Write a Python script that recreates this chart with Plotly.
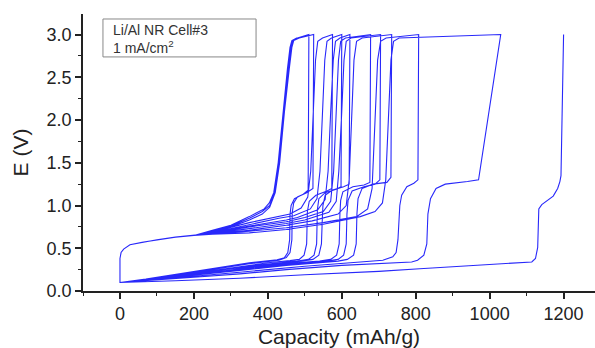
import plotly.graph_objects as go

# ---- data (capacity mAh/g, potential V) ----
charge_start = [(0, 0.1), (0, 0.38), (3, 0.45), (10, 0.49), (27, 0.54), (60, 0.57),
                (100, 0.6), (150, 0.63), (200, 0.65)]

d1 = [(1200, 3.0), (1196, 2.0), (1193, 1.35), (1190, 1.28), (1184, 1.2), (1172, 1.11),
      (1155, 1.05), (1141, 1.01), (1133, 0.96), (1130, 0.51), (1124, 0.38), (1114, 0.34),
      (811, 0.26), (700, 0.23), (500, 0.19), (324, 0.15), (150, 0.12), (0, 0.1)]
c1 = [(250, 0.665), (350, 0.68), (450, 0.72), (550, 0.78), (650, 0.87), (690, 0.93), (710, 1.03),
      (719, 1.3), (727, 2.0), (733, 2.7), (740, 2.92), (755, 2.96)]

d2 = [(1030, 3.0), (1000, 2.15), (970, 1.30), (940, 1.28), (880, 1.25), (855, 1.2), (840, 1.08),
      (833, 0.9), (830, 0.55), (822, 0.42), (805, 0.36), (789, 0.34), (703, 0.325), (600, 0.3),
      (450, 0.25), (324, 0.2), (200, 0.16), (100, 0.13), (0, 0.1)]
c2 = [(250, 0.67), (350, 0.7), (450, 0.74), (550, 0.8), (640, 0.87), (670, 0.96), (682, 1.2),
      (690, 2.0), (697, 2.7), (705, 2.92), (720, 2.96)]

d3 = [(808, 3.0), (807, 2.0), (806, 1.30), (795, 1.26), (776, 1.22), (762, 1.12), (757, 1.0),
      (752, 0.6), (747, 0.45), (738, 0.40), (711, 0.36), (650, 0.34), (500, 0.29), (324, 0.22),
      (200, 0.17), (100, 0.135), (0, 0.1)]
c3 = [(250, 0.67), (350, 0.71), (450, 0.77), (520, 0.82), (590, 0.9), (612, 1.0), (620, 1.3),
      (627, 2.0), (633, 2.7), (640, 2.92), (655, 2.96)]

d4 = [(735, 3.0), (734, 2.0), (733, 1.33), (722, 1.27), (684, 1.25), (655, 1.2), (644, 1.08),
      (641, 0.9), (639, 0.55), (632, 0.42), (615, 0.37), (590, 0.35), (450, 0.3), (324, 0.24),
      (200, 0.18), (100, 0.14), (0, 0.1)]
c4 = [(250, 0.675), (350, 0.73), (450, 0.79), (500, 0.83), (565, 0.92), (585, 1.05), (592, 1.4),
      (600, 2.1), (606, 2.7), (612, 2.92), (625, 2.96)]

d5 = [(705, 3.0), (704, 2.0), (703, 1.3), (690, 1.25), (660, 1.22), (628, 1.17), (617, 1.06),
      (614, 0.9), (612, 0.55), (605, 0.42), (590, 0.37), (560, 0.35), (450, 0.31), (324, 0.25),
      (200, 0.19), (100, 0.14), (0, 0.1)]
c5 = [(250, 0.68), (350, 0.75), (450, 0.81), (500, 0.86), (550, 0.93), (570, 1.05), (578, 1.4),
      (585, 2.1), (591, 2.7), (597, 2.92), (610, 2.96)]

d6 = [(678, 3.0), (677, 2.0), (676, 1.27), (660, 1.24), (630, 1.22), (603, 1.16), (597, 1.06),
      (595, 0.9), (593, 0.55), (586, 0.42), (570, 0.37), (540, 0.35), (450, 0.32), (324, 0.26),
      (200, 0.19), (100, 0.145), (0, 0.1)]
c6 = [(250, 0.68), (350, 0.76), (450, 0.83), (480, 0.86), (535, 0.95), (555, 1.07), (563, 1.4),
      (570, 2.1), (577, 2.7), (583, 2.92), (595, 2.96)]

d7 = [(622, 3.0), (621, 2.0), (620, 1.25), (605, 1.22), (575, 1.18), (555, 1.12), (549, 1.0),
      (547, 0.8), (545, 0.55), (538, 0.42), (522, 0.37), (490, 0.35), (400, 0.31), (300, 0.26),
      (200, 0.2), (100, 0.145), (0, 0.1)]
c7 = [(250, 0.685), (350, 0.78), (430, 0.85), (470, 0.88), (515, 0.96), (533, 1.08), (541, 1.4),
      (548, 2.1), (554, 2.7), (560, 2.92), (572, 2.96)]

d8 = [(600, 3.0), (599, 2.0), (598, 1.22), (585, 1.19), (555, 1.15), (538, 1.08), (534, 0.95),
      (532, 0.55), (525, 0.42), (510, 0.37), (480, 0.35), (400, 0.315), (300, 0.265),
      (200, 0.2), (100, 0.15), (0, 0.1)]
c8 = [(250, 0.69), (350, 0.8), (420, 0.86), (460, 0.9), (490, 0.97), (508, 1.1), (516, 1.4),
      (523, 2.1), (529, 2.7), (535, 2.92), (548, 2.96)]

d9 = [(575, 3.0), (574, 2.0), (573, 1.2), (560, 1.17), (530, 1.12), (512, 1.05), (507, 0.93),
      (505, 0.55), (498, 0.42), (485, 0.37), (460, 0.355), (400, 0.33), (300, 0.27),
      (200, 0.21), (100, 0.15), (0, 0.1)]
c9 = [(250, 0.7), (300, 0.75), (350, 0.83), (385, 0.9), (405, 0.98), (420, 1.15), (432, 1.5),
      (445, 2.1), (458, 2.6), (465, 2.85), (470, 2.93), (485, 2.96)]

d10 = [(524, 3.0), (523, 2.0), (522, 1.2), (505, 1.15), (480, 1.1), (470, 1.03), (466, 0.92),
       (465, 0.6), (460, 0.45), (450, 0.39), (430, 0.36), (350, 0.32), (250, 0.25),
       (150, 0.18), (70, 0.13), (0, 0.1)]
c10 = [(250, 0.7), (300, 0.76), (350, 0.85), (385, 0.93), (405, 1.0), (418, 1.15), (430, 1.5),
       (443, 2.1), (455, 2.6), (462, 2.85), (467, 2.93), (480, 2.96)]

d11 = [(511, 3.0), (510, 2.0), (509, 1.18), (495, 1.13), (472, 1.08), (463, 1.0), (460, 0.9),
       (459, 0.6), (454, 0.45), (445, 0.39), (425, 0.365), (350, 0.33), (250, 0.26),
       (150, 0.19), (70, 0.14), (0, 0.1)]
c11 = [(250, 0.71), (300, 0.77), (350, 0.87), (390, 0.96), (404, 1.03), (416, 1.15), (428, 1.5),
       (441, 2.1), (453, 2.6), (460, 2.85), (465, 2.93), (478, 2.96), (492, 2.97)]

discharges = [d1, d2, d3, d4, d5, d6, d7, d8, d9, d10, d11]
charges = [c1, c2, c3, c4, c5, c6, c7, c8, c9, c10, c11]

x_ticks = [0, 200, 400, 600, 800, 1000, 1200]
y_ticks = [0.0, 0.5, 1.0, 1.5, 2.0, 2.5, 3.0]

# ---- one continuous trace: discharge -> charge -> CV hold -> next discharge ----
xs, ys = [], []
for d, c in zip(discharges, charges):
    for seg in (d, charge_start, c):
        for x, y in seg:
            xs.append(x)
            ys.append(y)

LINE_COLOR = "rgb(40,40,250)"
FONT = "Liberation Sans, Arial, sans-serif"

fig = go.Figure()
fig.add_trace(go.Scatter(x=xs, y=ys, mode="lines",
                         line=dict(color=LINE_COLOR, width=1.1), hoverinfo="skip",
                         showlegend=False))

axis_common = dict(showline=True, linecolor="#222", linewidth=1.5, showgrid=False,
                   zeroline=False, ticks="outside", ticklen=6, tickwidth=1.5,
                   tickcolor="#222", mirror=False,
                   tickfont=dict(family=FONT, size=18, color="#222"))

fig.update_xaxes(range=[-100, 1285], tickvals=x_ticks, ticktext=[str(v) for v in x_ticks],
                 minor=dict(dtick=100, tick0=-100, ticklen=3, ticks="outside",
                            tickwidth=1.2, tickcolor="#222"),
                 title=dict(text="Capacity (mAh/g)", font=dict(family=FONT, size=21, color="#222"),
                            standoff=6),
                 **axis_common)
fig.update_yaxes(range=[0, 3.24], tickvals=y_ticks, ticktext=[f"{v:.1f}" for v in y_ticks],
                 minor=dict(dtick=0.25, tick0=0, ticklen=3, ticks="outside",
                            tickwidth=1.2, tickcolor="#222"),
                 title=dict(text="E (V)", font=dict(family=FONT, size=21, color="#222"),
                            standoff=12),
                 **axis_common)

# legend-like box
fig.add_shape(type="rect", xref="paper", yref="paper", x0=0.039, x1=0.338, y0=0.845, y1=0.982,
              line=dict(color="#888", width=1), fillcolor="white")
fig.add_annotation(xref="paper", yref="paper", x=0.054, y=0.978, xanchor="left", yanchor="top",
                   align="left", showarrow=False,
                   text="Li/Al NR Cell#3<br>1 mA/cm<sup>2</sup>",
                   font=dict(family=FONT, size=14, color="#333"))

fig.update_layout(width=595, height=348, margin=dict(l=83, r=0, t=14, b=57),
                  plot_bgcolor="white", paper_bgcolor="white")

fig.write_html("out.html")
